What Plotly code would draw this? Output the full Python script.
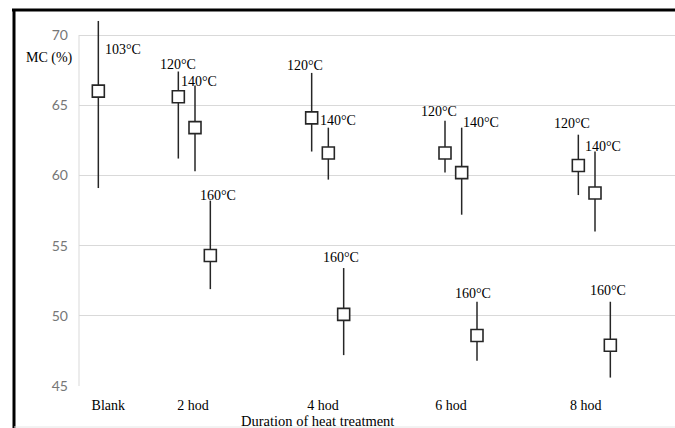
import plotly.graph_objects as go

# ---- data ----
categories = ["Blank", "2 hod", "4 hod", "6 hod", "8 hod"]
category_pos = [0.70, 1.97, 3.92, 5.84, 7.86]     # tick-label positions (hours axis)

hours = [2, 4, 6, 8]
blank_x = [0.55]
blank_mean = [66.0]
blank_upper = [71.0]
blank_lower = [59.1]

mean_120 = [65.6, 64.1, 61.6, 60.7]
upper_120 = [67.4, 67.3, 63.9, 62.9]
lower_120 = [61.2, 61.7, 60.2, 58.6]

mean_140 = [63.4, 61.6, 60.2, 58.75]
upper_140 = [66.4, 63.4, 63.4, 61.7]
lower_140 = [60.3, 59.7, 57.2, 56.0]

mean_160 = [54.3, 50.1, 48.6, 47.9]
upper_160 = [58.2, 53.4, 51.0, 51.0]
lower_160 = [51.9, 47.2, 46.8, 45.6]

y_ticks = [45, 50, 55, 60, 65, 70]

# ---- style / layout ----
offset = {"120": -0.25, "140": 0.0, "160": 0.23}
ink = "#262626"
serif = "Liberation Serif, Times New Roman, serif"
sans = "Lato, Noto Sans, sans-serif"

W, H = 675, 428
ML, MR, MT, MB = 79, 0, 14, 42
PW, PH = W - ML - MR, H - MT - MB
px_per_unit = 14.04
y_top = 70 + (35 - MT) / px_per_unit      # lets error bars rise above the 70 line


def paper_x(px):
    return (px - ML) / PW


def paper_y(py):
    return (H - MB - py) / PH


def series(x, mean, upper, lower, label, dx_list, dy_list):
    tr = go.Scatter(
        x=x, y=mean, mode="markers", cliponaxis=False, showlegend=False,
        marker=dict(symbol="square", size=12, color="white",
                    line=dict(color=ink, width=1.6)),
        error_y=dict(type="data", symmetric=False,
                     array=[u - m for u, m in zip(upper, mean)],
                     arrayminus=[m - l for m, l in zip(mean, lower)],
                     color=ink, thickness=1.5, width=0),
    )
    anns = [dict(x=xi, y=ui, text=label, showarrow=False, xshift=dx, yshift=dy,
                 xanchor="center", yanchor="middle",
                 font=dict(family=serif, size=14, color="black"))
            for xi, ui, dx, dy in zip(x, upper, dx_list, dy_list)]
    return tr, anns


fig = go.Figure()
annotations = []

t, a = series(blank_x, blank_mean, blank_upper, blank_lower, "103°C", [25], [-29])
fig.add_trace(t); annotations += a
t, a = series([h + offset["120"] for h in hours], mean_120, upper_120, lower_120,
              "120°C", [0, -7, -6, -6], [7, 7, 9, 11])
fig.add_trace(t); annotations += a
t, a = series([h + offset["140"] for h in hours], mean_140, upper_140, lower_140,
              "140°C", [4, 10, 19, 8], [4, 7, 5, 5])
fig.add_trace(t); annotations += a
t, a = series([h + offset["160"] for h in hours], mean_160, upper_160, lower_160,
              "160°C", [8, -3, -4, -2], [5, 11, 8, 11])
fig.add_trace(t); annotations += a

annotations.append(dict(xref="paper", yref="paper", x=paper_x(317), y=paper_y(421),
                        xanchor="center", yanchor="middle",
                        text="Duration of heat treatment", showarrow=False,
                        font=dict(family=serif, size=14.5, color="black")))
annotations.append(dict(xref="paper", yref="paper", x=paper_x(49), y=paper_y(58),
                        xanchor="center", yanchor="middle",
                        text="MC (%)", showarrow=False,
                        font=dict(family=serif, size=14, color="black")))

fig.update_layout(
    width=W, height=H,
    margin=dict(l=ML, r=MR, t=MT, b=MB, pad=0),
    paper_bgcolor="white", plot_bgcolor="white",
    annotations=annotations,
    xaxis=dict(range=[0.26, 9.2], tickvals=category_pos, ticktext=categories,
               showgrid=False, zeroline=False, showline=False, ticks="",
               tickfont=dict(family=serif, size=14, color="black"),
               ticklabelstandoff=9),
    yaxis=dict(range=[45, y_top], tickvals=y_ticks, showgrid=True,
               gridcolor="#d9d9d9", gridwidth=1, zeroline=False,
               showline=False, ticks="",
               tickfont=dict(family=sans, size=14, color="#767676"),
               ticklabelstandoff=10),
    shapes=[
        # y axis line, only between 45 and 70
        dict(type="line", xref="paper", yref="y", x0=0, x1=0, y0=45, y1=70,
             line=dict(color="#d9d9d9", width=1), layer="below"),
        # black frame (top and left)
        dict(type="line", xref="paper", yref="paper", x0=paper_x(12), x1=1.0,
             y0=paper_y(10), y1=paper_y(10), line=dict(color="black", width=3)),
        dict(type="line", xref="paper", yref="paper", x0=paper_x(14), x1=paper_x(14),
             y0=paper_y(9), y1=paper_y(430), line=dict(color="black", width=3)),
        # faint bottom border
        dict(type="line", xref="paper", yref="paper", x0=paper_x(14), x1=1.0,
             y0=paper_y(427), y1=paper_y(427), line=dict(color="#e6e6e6", width=1)),
    ],
)

fig.write_html("out.html", config={"displayModeBar": False},
               post_script="document.body.style.margin='0';"
                           "document.body.style.overflow='hidden';"
                           "document.documentElement.style.overflow='hidden';")
